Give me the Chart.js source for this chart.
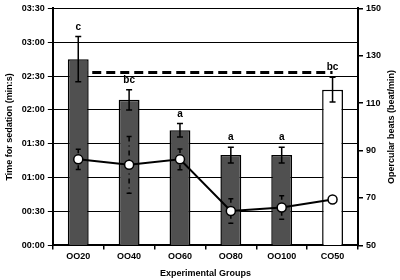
<!DOCTYPE html>
<html>
<head>
<meta charset="utf-8">
<script src="https://cdn.jsdelivr.net/npm/chart.js@4"></script>
<style>
  html, body { margin: 0; padding: 0; background: #fff; }
</style>
</head>
<body>
<canvas id="chart" width="400" height="280"></canvas>
<script>
const categories = ['OO20', 'OO40', 'OO60', 'OO80', 'OO100', 'CO50'];
// time for sedation, seconds
const sedationTime = [165, 129, 102, 80, 80, 138];
const sedationErr = [20, 9, 6, 7, 7, 11];
const sigLetters = ['c', 'bc', 'a', 'a', 'a', 'bc'];
// opercular beats, beat/min
const beats = [86.3, 84, 86.3, 64.5, 66, 69.4];
const beatsErr = [4.3, 12, 4.4, 5.2, 5, 0];
const controlBeats = [123, 123, 123, 123, 123, 123];

const barFill = ['#505050', '#505050', '#505050', '#505050', '#505050', '#ffffff'];
const fontFamily = '"Liberation Sans", Arial, sans-serif';

function mmss(v) {
    const m = Math.floor(v / 60), s = v % 60;
    return String(m).padStart(2, '0') + ':' + String(s).padStart(2, '0');
}

const errorBarsPlugin = {
    id: 'errorBars',
    afterDatasetDraw(chart, args) {
        if (args.index !== 0) return;
        const ctx = chart.ctx;
        const y = chart.scales.y, y1 = chart.scales.y1;
        const barMeta = chart.getDatasetMeta(0);
        ctx.save();
        ctx.strokeStyle = '#000';
        ctx.fillStyle = '#000';
        // bar error bars + letters
        barMeta.data.forEach((bar, i) => {
            const top = y.getPixelForValue(sedationTime[i] + sedationErr[i]);
            const bot = y.getPixelForValue(sedationTime[i] - sedationErr[i]);
            ctx.lineWidth = 1.5;
            ctx.beginPath();
            ctx.moveTo(bar.x, top); ctx.lineTo(bar.x, bot);
            ctx.moveTo(bar.x - 3, top); ctx.lineTo(bar.x + 3, top);
            ctx.moveTo(bar.x - 3, bot); ctx.lineTo(bar.x + 3, bot);
            ctx.stroke();
            ctx.font = 'bold 10px ' + fontFamily;
            ctx.textAlign = 'center';
            ctx.textBaseline = 'alphabetic';
            ctx.fillText(sigLetters[i], bar.x, top - 7);
        });
        // line error bars (dashed)
        const lineMeta = chart.getDatasetMeta(1);
        lineMeta.data.forEach((pt, i) => {
            if (!beatsErr[i]) return;
            const top = y1.getPixelForValue(beats[i] + beatsErr[i]);
            const bot = y1.getPixelForValue(beats[i] - beatsErr[i]);
            ctx.lineWidth = 1.5;
            ctx.setLineDash(i === 1 ? [5, 4, 1, 4] : [4, 4]);
            ctx.beginPath();
            ctx.moveTo(pt.x, top); ctx.lineTo(pt.x, bot);
            ctx.stroke();
            ctx.setLineDash([]);
            ctx.beginPath();
            ctx.moveTo(pt.x - 2.5, top); ctx.lineTo(pt.x + 2.5, top);
            ctx.moveTo(pt.x - 2.5, bot); ctx.lineTo(pt.x + 2.5, bot);
            ctx.stroke();
        });
        ctx.restore();
    }
};

// right axis title reads bottom-to-top like the left one
const rightTitlePlugin = {
    id: 'rightTitle',
    afterDraw(chart) {
        const ctx = chart.ctx;
        const area = chart.chartArea;
        ctx.save();
        ctx.translate(392, (area.top + area.bottom) / 2);
        ctx.rotate(-Math.PI / 2);
        ctx.font = 'bold 9px ' + fontFamily;
        ctx.fillStyle = '#000';
        ctx.textAlign = 'center';
        ctx.textBaseline = 'middle';
        ctx.fillText('Opercular beats (beat/min)', 0, 0);
        ctx.restore();
    }
};

const axisFont = { family: fontFamily, size: 9, weight: 'bold' };

new Chart(document.getElementById('chart').getContext('2d'), {
    type: 'bar',
    data: {
        labels: categories,
        datasets: [{
            type: 'bar',
            label: 'Time for sedation',
            data: sedationTime,
            yAxisID: 'y',
            backgroundColor: barFill,
            borderColor: '#000',
            borderWidth: 1.5,
            barPercentage: 0.82,
            categoryPercentage: 0.5,
            order: 1
        }, {
            type: 'line',
            label: 'Opercular beats',
            data: beats,
            yAxisID: 'y1',
            borderColor: '#000',
            borderWidth: 2,
            pointRadius: 4.5,
            pointBackgroundColor: '#fff',
            pointBorderColor: '#000',
            pointBorderWidth: 1.5,
            tension: 0,
            order: 0
        }, {
            type: 'line',
            label: 'Control',
            data: controlBeats,
            yAxisID: 'y1',
            borderColor: '#000',
            borderWidth: 3,
            borderDash: [9, 5],
            pointRadius: 0,
            order: 2
        }]
    },
    options: {
        responsive: false,
        animation: false,
        layout: { padding: { top: -3, right: 16, left: 4, bottom: 1 } },
        plugins: {
            legend: { display: false },
            tooltip: { enabled: false }
        },
        scales: {
            x: {
                grid: { display: true, drawOnChartArea: false, color: '#000', tickLength: 4, lineWidth: 1.5 },
                border: { color: '#000', width: 2 },
                ticks: { color: '#000', font: axisFont, padding: 2, maxRotation: 0, autoSkip: false },
                title: { display: true, text: 'Experimental Groups', color: '#000', font: axisFont, padding: { top: 4, bottom: 0 } }
            },
            y: {
                position: 'left',
                min: 0, max: 210,
                ticks: { stepSize: 30, color: '#000', font: axisFont, callback: v => mmss(v), padding: 3, autoSkip: false },
                grid: { color: '#000', lineWidth: 1, tickLength: 5 },
                border: { color: '#000', width: 2 },
                title: { display: true, text: 'Time for sedation (min:s)', color: '#000', font: axisFont, padding: { top: 0, bottom: 4 } }
            },
            y1: {
                position: 'right',
                min: 50, max: 150,
                ticks: { stepSize: 20, color: '#000', font: axisFont, padding: 3, autoSkip: false },
                grid: { drawOnChartArea: false, color: '#000', lineWidth: 1.5, tickLength: 5 },
                border: { color: '#000', width: 2 },
                title: { display: false }
            }
        }
    },
    plugins: [errorBarsPlugin, rightTitlePlugin]
});
</script>
</body>
</html>
